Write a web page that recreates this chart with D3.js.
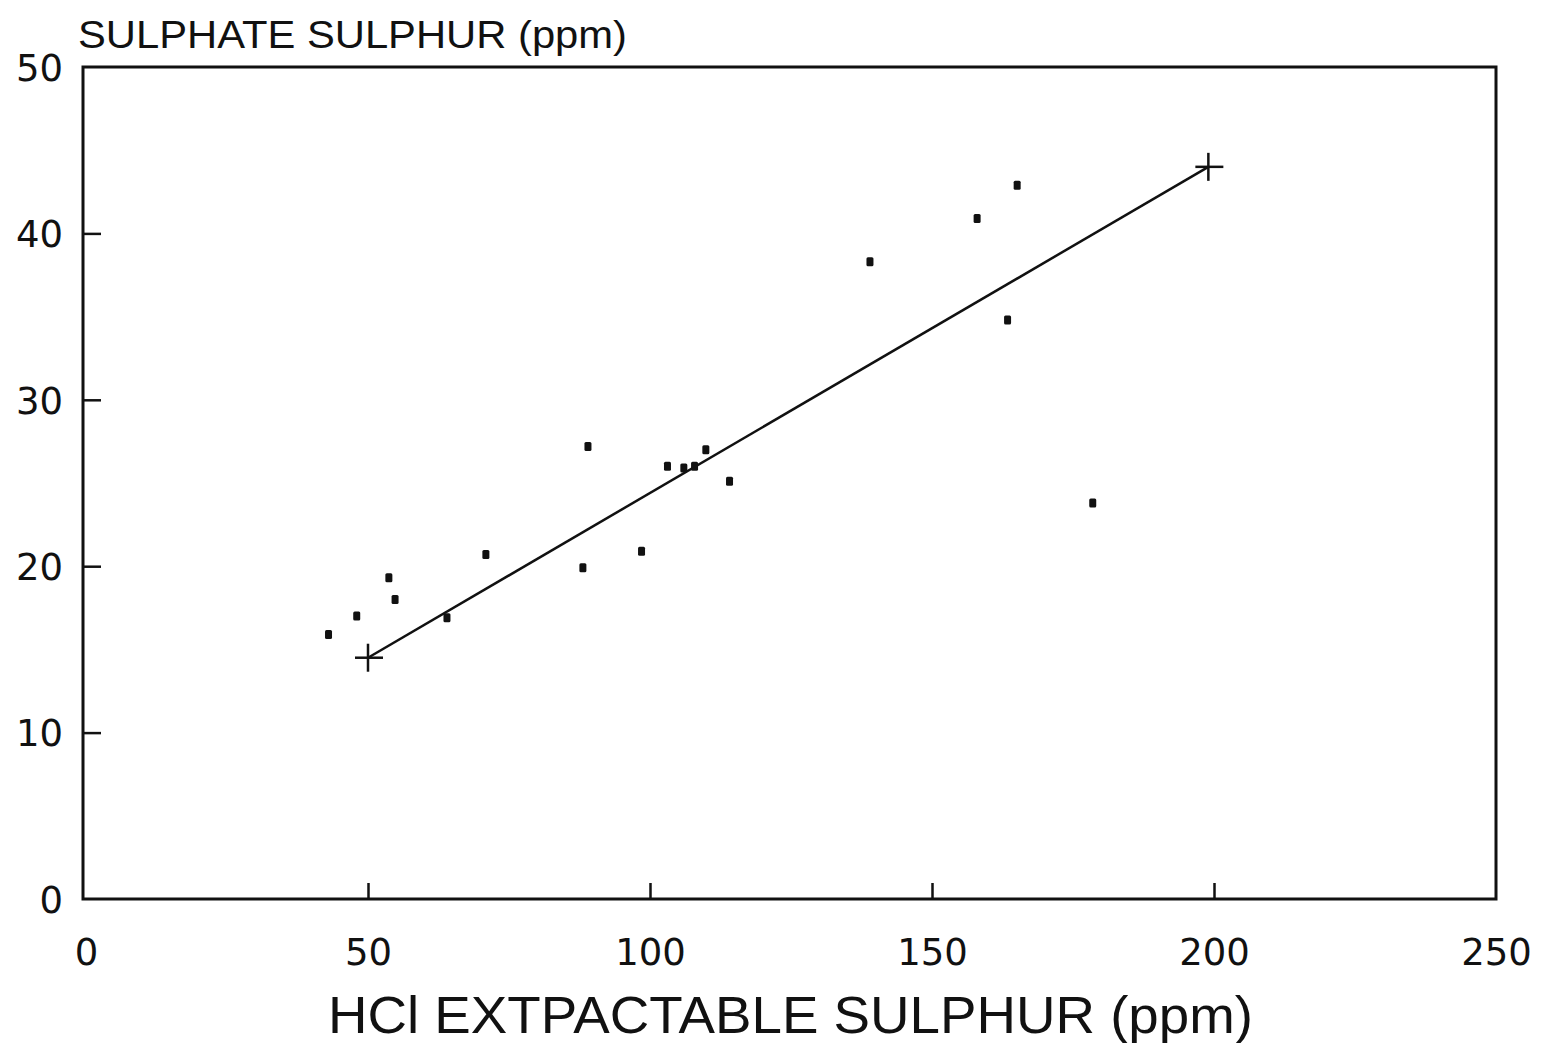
<!DOCTYPE html>
<html>
<head>
<meta charset="utf-8">
<script src="https://cdn.jsdelivr.net/npm/d3@7"></script>
<style>
    body { margin: 0; background: #fff; }
    text { font-family: "Liberation Sans", Arial, sans-serif; fill: #111; }
    .tickLab { font-family: "DejaVu Sans", sans-serif; }
</style>
</head>
<body>
<svg id="chart" width="1542" height="1043"></svg>
<script>
// Data
const hclSulphur = [43, 48, 53.7, 54.8, 64, 70.9, 88.1, 89, 98.5, 103.1, 106, 107.9, 109.9, 114.1, 139, 158, 163.4, 165.1, 178.5]
const sulphateSulphur = [15.9, 17.0, 19.3, 18.0, 16.9, 20.7, 19.9, 27.2, 20.9, 26.0, 25.9, 26.0, 27.0, 25.1, 38.3, 40.9, 34.8, 42.9, 23.8]
const fitX = [50, 199]
const fitY = [14.5, 44.0]
const xTicks = [0, 50, 100, 150, 200, 250]
const yTicks = [0, 10, 20, 30, 40, 50]

const yTitle = "SULPHATE SULPHUR (ppm)"
const xTitle = "HCl EXTPACTABLE SULPHUR (ppm)"

const ink = "#111"
const frame = {left: 83, right: 1496, top: 67, bottom: 899}

const svg = d3.select("#chart")

const x = d3.scaleLinear().domain([0, 250]).range([86, 1496])
const y = d3.scaleLinear().domain([0, 50]).range([899, 67])

// Box round the plot
svg.append("rect")
    .attr("x", frame.left)
    .attr("y", frame.top)
    .attr("width", frame.right - frame.left)
    .attr("height", frame.bottom - frame.top)
    .attr("fill", "none")
    .attr("stroke", ink)
    .attr("stroke-width", 3)

// Bottom axis: short inward ticks, labels well below
const xAxis = svg.append("g")
    .attr("transform", `translate(0, ${frame.bottom})`)
    .call(d3.axisBottom(x).tickValues(xTicks).tickSize(0).tickPadding(0).tickFormat(""))
xAxis.select(".domain").remove()
xAxis.selectAll(".tick line")
    .attr("y2", d => (d > 0 && d < 250) ? -16 : 0)
    .attr("stroke", ink)
    .attr("stroke-width", 2.5)
xAxis.selectAll(".tick").append("text")
    .attr("class", "tickLab")
    .attr("y", 66)
    .attr("text-anchor", "middle")
    .attr("font-size", 37)
    .text(d => d)

// Left axis
const yAxis = svg.append("g")
    .attr("transform", `translate(${frame.left}, 0)`)
    .call(d3.axisLeft(y).tickValues(yTicks).tickSize(0).tickFormat(""))
yAxis.select(".domain").remove()
yAxis.selectAll(".tick line")
    .attr("x2", d => (d > 0 && d < 50) ? 18 : 0)
    .attr("stroke", ink)
    .attr("stroke-width", 2.5)
yAxis.selectAll(".tick").append("text")
    .attr("class", "tickLab")
    .attr("x", -20)
    .attr("dy", "0.36em")
    .attr("text-anchor", "end")
    .attr("font-size", 37)
    .text(d => d)

// Titles
svg.append("text")
    .attr("x", 78)
    .attr("y", 48)
    .attr("font-size", 39)
    .attr("textLength", 549)
    .attr("lengthAdjust", "spacingAndGlyphs")
    .text(yTitle)

svg.append("text")
    .attr("x", 328)
    .attr("y", 1033)
    .attr("font-size", 52)
    .attr("textLength", 925)
    .attr("lengthAdjust", "spacingAndGlyphs")
    .text(xTitle)

// Fitted line with + at each end
svg.append("line")
    .attr("x1", x(fitX[0]))
    .attr("y1", y(fitY[0]))
    .attr("x2", x(fitX[1]))
    .attr("y2", y(fitY[1]))
    .attr("stroke", ink)
    .attr("stroke-width", 2.5)

const crossGroup = svg.append("g")
fitX.forEach((fx, i) => {
    const cx = x(fx), cy = y(fitY[i])
    crossGroup.append("line")
        .attr("x1", cx - 13).attr("x2", cx + 15)
        .attr("y1", cy).attr("y2", cy)
        .attr("stroke", ink).attr("stroke-width", 2.5)
    crossGroup.append("line")
        .attr("x1", cx).attr("x2", cx)
        .attr("y1", cy - 14).attr("y2", cy + 14)
        .attr("stroke", ink).attr("stroke-width", 2.5)
})

// Data points as small blobs
const points = hclSulphur.map((v, i) => ({x: v, y: sulphateSulphur[i]}))
svg.append("g")
    .selectAll("rect")
    .data(points)
    .join("rect")
    .attr("x", d => x(d.x) - 3.5)
    .attr("y", d => y(d.y) - 4.5)
    .attr("width", 7)
    .attr("height", 9)
    .attr("rx", 1.5)
    .attr("fill", ink)
</script>
</body>
</html>
